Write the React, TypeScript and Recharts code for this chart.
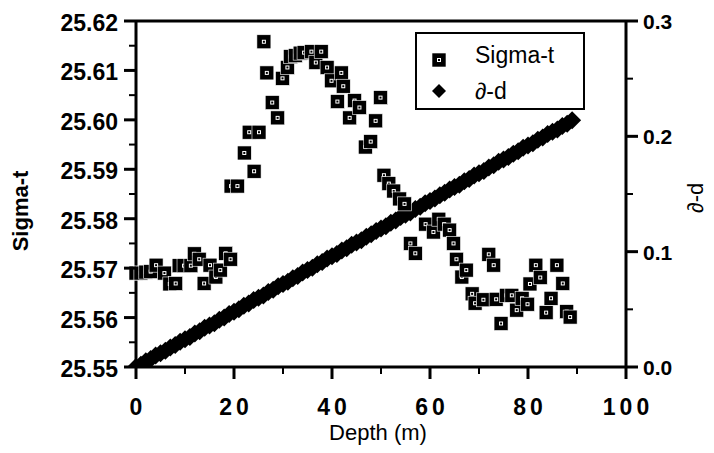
import { ScatterChart, Scatter, XAxis, YAxis, ReferenceLine, Legend } from "recharts";

// Sigma-t readings against depth (m)
const SIGMA_DEPTH = [
  0, 1, 2, 3, 4.1, 5.8, 6.9, 8.1, 8.8, 9.8,
  11.2, 11.9, 12.9, 13.9, 15.1, 16.3, 17.2, 18.3, 19.3, 19.4,
  20.7, 22.1, 23.1, 24.1, 25.1, 26.1, 26.7, 27.8, 28.9, 29.9,
  30.9, 31.5, 32.5, 33.5, 34.3, 35.8, 36.7, 37.8, 39.0, 39.9,
  41.1, 41.9, 42.3, 43.6, 44.6, 45.6, 46.8, 47.9, 48.9, 49.9,
  50.6, 51.6, 52.6, 53.8, 54.8, 56.0, 57.0, 59.1, 60.7, 61.8,
  62.9, 64.0, 64.8, 65.4, 66.5, 67.4, 68.6, 69.2, 70.9, 72.0,
  73.0, 73.5, 74.5, 75.6, 76.7, 77.7, 78.8, 79.9, 80.4, 81.6,
  82.5, 83.7, 84.7, 85.9, 87.1, 87.9, 88.6,
];
const SIGMA_VALUE = [
  25.569, 25.569, 25.5692, 25.5693, 25.5706, 25.569, 25.5668, 25.5669, 25.5705, 25.5705,
  25.5705, 25.5729, 25.5718, 25.5669, 25.5706, 25.5682, 25.5696, 25.573, 25.5718, 25.5866,
  25.5866, 25.5933, 25.5975, 25.5896, 25.5975, 25.6158, 25.6095, 25.6035, 25.6004, 25.6084,
  25.6106, 25.6128, 25.613, 25.6135, 25.6136, 25.6138, 25.6116, 25.6138, 25.6106, 25.6079,
  25.6037, 25.6095, 25.6068, 25.6004, 25.6039, 25.6025, 25.5945, 25.5956, 25.5998, 25.6045,
  25.5888, 25.5871, 25.5856, 25.584, 25.583, 25.575, 25.573, 25.5789, 25.5773, 25.5799,
  25.5789, 25.5777, 25.575, 25.5718, 25.5682, 25.5696, 25.5648, 25.5629, 25.5636, 25.5728,
  25.5706, 25.5637, 25.5588, 25.5645, 25.5645, 25.5615, 25.5639, 25.5627, 25.5668, 25.5706,
  25.5681, 25.561, 25.5639, 25.5706, 25.5669, 25.5612, 25.5601,
];

// ∂-d readings against depth (m)
const DD_DEPTH = [
  0, 1, 2, 3, 4, 5, 6, 7, 8, 9,
  10, 11, 12, 13, 14, 15, 16, 17, 18, 19,
  20, 21, 22, 23, 24, 25, 26, 27, 28, 29,
  30, 31, 32, 33, 34, 35, 36, 37, 38, 39,
  40, 41, 42, 43, 44, 45, 46, 47, 48, 49,
  50, 51, 52, 53, 54, 55, 56, 57, 58, 59,
  60, 61, 62, 63, 64, 65, 66, 67, 68, 69,
  70, 71, 72, 73, 74, 75, 76, 77, 78, 79,
  80, 81, 82, 83, 84, 85, 86, 87, 88, 89,
];
const DD_VALUE = [
  0.0, 0.002, 0.005, 0.007, 0.01, 0.012, 0.014, 0.017, 0.019, 0.022,
  0.024, 0.026, 0.029, 0.031, 0.034, 0.036, 0.038, 0.041, 0.043, 0.046,
  0.048, 0.05, 0.053, 0.055, 0.058, 0.06, 0.062, 0.065, 0.067, 0.07,
  0.072, 0.074, 0.077, 0.079, 0.082, 0.084, 0.086, 0.089, 0.091, 0.094,
  0.096, 0.098, 0.101, 0.103, 0.106, 0.108, 0.11, 0.113, 0.115, 0.118,
  0.12, 0.122, 0.125, 0.127, 0.13, 0.132, 0.134, 0.137, 0.139, 0.142,
  0.144, 0.146, 0.149, 0.151, 0.154, 0.156, 0.158, 0.161, 0.163, 0.166,
  0.168, 0.17, 0.173, 0.175, 0.178, 0.18, 0.182, 0.185, 0.187, 0.19,
  0.192, 0.194, 0.197, 0.199, 0.202, 0.204, 0.206, 0.209, 0.211, 0.214,
];

const DEPTH_TICKS = [0, 10, 20, 30, 40, 50, 60, 70, 80, 90, 100];
const SIGMA_TICKS = [
  25.55, 25.555, 25.56, 25.565, 25.57, 25.575, 25.58, 25.585,
  25.59, 25.595, 25.6, 25.605, 25.61, 25.615, 25.62,
];
const DD_TICKS = [0, 0.05, 0.1, 0.15, 0.2, 0.25, 0.3];
const LEGEND_ORDER = ["Sigma-t", "∂-d"];

const FONT = '"Liberation Sans", Arial, Helvetica, sans-serif';

const sigmaData = SIGMA_DEPTH.map((depth, i) => ({ depth, sigma: SIGMA_VALUE[i] }));
const ddData = DD_DEPTH.map((depth, i) => ({ depth, dd: DD_VALUE[i] }));

function isMajor(v: number, step: number) {
  const r = v / step;
  return Math.abs(r - Math.round(r)) < 1e-6;
}

// solid black square with a small white ring and black centre
function SquareMarker({ cx, cy }: any) {
  if (cx == null || cy == null) return null;
  return (
    <g>
      <rect x={cx - 7} y={cy - 7} width={14} height={14} fill="#000" stroke="#fff" strokeWidth={0.6} />
      <rect x={cx - 2} y={cy - 2} width={4} height={4} fill="#fff" />
      <rect x={cx - 1} y={cy - 1} width={2} height={2} fill="#000" />
    </g>
  );
}

function DiamondMarker({ cx, cy, r = 9 }: any) {
  if (cx == null || cy == null) return null;
  return <polygon points={`${cx},${cy - r} ${cx + r},${cy} ${cx},${cy + r} ${cx - r},${cy}`} fill="#000" />;
}

function DepthTick({ x, y, payload }: any) {
  const major = isMajor(payload.value, 20);
  return (
    <g>
      <line x1={x} x2={x} y1={y} y2={y + (major ? 12 : 7)} stroke="#000" strokeWidth={major ? 3 : 2} />
      {major && (
        <text x={x + 2} y={y + 48} textAnchor="middle" fontFamily={FONT} fontSize={23} fontWeight="bold" letterSpacing={4} fill="#000">
          {payload.value}
        </text>
      )}
    </g>
  );
}

function SigmaTick({ x, y, payload }: any) {
  const major = isMajor(payload.value, 0.01);
  return (
    <g>
      <line x1={x} x2={x - (major ? 12 : 7)} y1={y} y2={y} stroke="#000" strokeWidth={major ? 3 : 2} />
      {major && (
        <text x={x - 18} y={y + 10} textAnchor="end" fontFamily={FONT} fontSize={23} fontWeight="bold" fill="#000">
          {payload.value.toFixed(2)}
        </text>
      )}
    </g>
  );
}

function DdTick({ x, y, payload }: any) {
  const major = isMajor(payload.value, 0.1);
  return (
    <g>
      <line x1={x} x2={x + (major ? 12 : 7)} y1={y} y2={y} stroke="#000" strokeWidth={major ? 3 : 2} />
      {major && (
        <text x={x + 17} y={y + 8} textAnchor="start" fontFamily={FONT} fontSize={21} fontWeight="bold" fill="#000">
          {payload.value.toFixed(1)}
        </text>
      )}
    </g>
  );
}

function LegendBox({ payload }: any) {
  const items = LEGEND_ORDER.map((n) => (payload || []).find((p: any) => p.value === n)).filter(Boolean);
  const markerY = [28, 59];
  const textY = [31, 67];
  return (
    <svg width={170} height={78} style={{ display: "block" }}>
      <rect x={1} y={1} width={168} height={76} fill="#fff" stroke="#000" strokeWidth={2} />
      {items.map((item: any, i: number) => (
        <g key={item.value}>
          {item.value === "Sigma-t" ? <SquareMarker cx={24} cy={markerY[i]} /> : <DiamondMarker cx={24} cy={markerY[i]} r={7} />}
          <text x={60} y={textY[i]} fontFamily={FONT} fontSize={23} fill="#000">
            {item.value}
          </text>
        </g>
      ))}
    </svg>
  );
}

export default function App() {
  return (
    <div style={{ width: 706, height: 445 }}>
      <ScatterChart width={706} height={445} margin={{ top: 13, right: 28, bottom: 46, left: 58 }}>
        <XAxis
          type="number"
          dataKey="depth"
          domain={[0, 100]}
          ticks={DEPTH_TICKS}
          interval={0}
          height={40}
          tickSize={0}
          tickMargin={0}
          tickLine={false}
          tick={<DepthTick />}
          axisLine={{ stroke: "#000", strokeWidth: 3 }}
          label={(props: any) => {
            const vb = props.viewBox;
            return (
              <text x={vb.x + vb.width / 2 - 3} y={vb.y + 73} textAnchor="middle" fontFamily={FONT} fontSize={22} fill="#000">
                Depth (m)
              </text>
            );
          }}
        />
        <YAxis
          yAxisId="left"
          type="number"
          dataKey="sigma"
          domain={[25.55, 25.62]}
          allowDataOverflow
          ticks={SIGMA_TICKS}
          interval={0}
          width={70}
          tickSize={0}
          tickMargin={0}
          tickLine={false}
          tick={<SigmaTick />}
          axisLine={{ stroke: "#000", strokeWidth: 3 }}
          label={(props: any) => {
            const vb = props.viewBox;
            const cx = vb.x - 38;
            const cy = vb.y + vb.height / 2 + 17;
            return (
              <text transform={`translate(${cx},${cy}) rotate(-90)`} textAnchor="middle" fontFamily={FONT} fontSize={22} fontWeight="bold" fill="#000">
                Sigma-t
              </text>
            );
          }}
        />
        <YAxis
          yAxisId="right"
          orientation="right"
          type="number"
          dataKey="dd"
          domain={[0, 0.3]}
          allowDataOverflow
          ticks={DD_TICKS}
          interval={0}
          width={60}
          tickSize={0}
          tickMargin={0}
          tickLine={false}
          tick={<DdTick />}
          axisLine={{ stroke: "#000", strokeWidth: 3 }}
          label={(props: any) => {
            const vb = props.viewBox;
            const cx = vb.x + 77;
            const cy = vb.y + vb.height / 2 + 4;
            return (
              <text transform={`translate(${cx},${cy}) rotate(-90)`} textAnchor="middle" fontFamily={FONT} fontSize={22} fill="#000">
                ∂-d
              </text>
            );
          }}
        />
        <ReferenceLine yAxisId="left" y={25.62} stroke="#000" strokeWidth={3} />
        <Scatter
          name="∂-d"
          data={ddData}
          dataKey="dd"
          yAxisId="right"
          isAnimationActive={false}
          shape={(p: any) => <DiamondMarker cx={p.cx} cy={p.cy} />}
        />
        <Scatter
          name="Sigma-t"
          data={sigmaData}
          dataKey="sigma"
          yAxisId="left"
          isAnimationActive={false}
          shape={(p: any) => <SquareMarker cx={p.cx} cy={p.cy} />}
        />
        <Legend
          layout="vertical"
          align="center"
          verticalAlign="middle"
          wrapperStyle={{ left: 407, top: 24, width: 170, height: 78 }}
          content={<LegendBox />}
        />
      </ScatterChart>
    </div>
  );
}
